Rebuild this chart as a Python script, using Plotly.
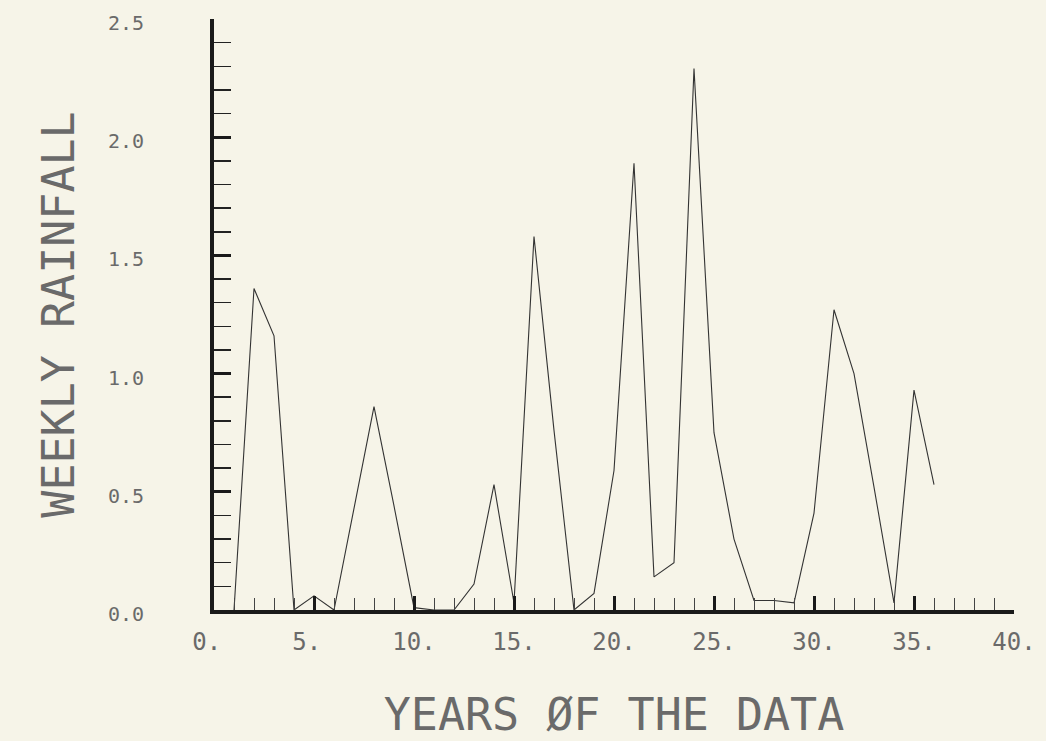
import plotly.graph_objects as go

# Data
weeks = [1, 2, 3, 4, 5, 6, 7, 8, 9, 10, 11, 12, 13, 14, 15, 16, 17, 18,
         19, 20, 21, 22, 23, 24, 25, 26, 27, 28, 29, 30, 31, 32, 33, 34, 35, 36]
rainfall = [0.00, 1.36, 1.16, 0.00, 0.06, 0.00, 0.43, 0.86, 0.44, 0.01, 0.00, 0.00,
            0.11, 0.53, 0.03, 1.58, 0.76, 0.00, 0.07, 0.59, 1.89, 0.14, 0.20, 2.29,
            0.75, 0.30, 0.04, 0.04, 0.03, 0.41, 1.27, 1.00, 0.52, 0.03, 0.93, 0.53]

x_tick_vals = [0, 5, 10, 15, 20, 25, 30, 35, 40]
x_tick_text = ["0.\u00a0", "5.\u00a0", "10.", "15.", "20.", "25.", "30.", "35.", "40."]
y_tick_vals = [0.0, 0.5, 1.0, 1.5, 2.0, 2.5]
y_tick_text = ["0.0", "0.5", "1.0", "1.5", "2.0", "2.5"]

x_title = "YEARS ØF THE DATA"
y_title = "WEEKLY RAINFALL"

BG = "#f6f4e8"
INK = "#1a1a1a"
TXT = "#6a6a6a"
FONT = "DejaVu Sans Mono"

fig = go.Figure()
fig.add_trace(go.Scatter(
    x=weeks, y=rainfall, mode="lines",
    line=dict(color="#333333", width=1.1),
    showlegend=False, hoverinfo="skip",
))

fig.update_layout(
    width=1046, height=741,
    paper_bgcolor=BG, plot_bgcolor=BG,
    margin=dict(l=214, r=32, t=19, b=131, autoexpand=False),
    font=dict(family=FONT, color=TXT),
)

fig.update_xaxes(
    range=[0, 40], showgrid=False, zeroline=False,
    showline=True, linewidth=4, linecolor=INK,
    ticks="inside", ticklen=14, tickwidth=3, tickcolor=INK,
    tickvals=x_tick_vals, ticktext=x_tick_text,
    tickfont=dict(family=FONT, size=24, color=TXT),
    ticklabelstandoff=7,
    minor=dict(dtick=1, ticks="inside", ticklen=12, tickwidth=1, tickcolor="#444444"),
    title=dict(text=x_title, font=dict(family=FONT, size=45, color=TXT), standoff=46),
    automargin=False,
)

fig.update_yaxes(
    range=[0, 2.5], showgrid=False, zeroline=False,
    showline=True, linewidth=4, linecolor=INK,
    ticks="inside", ticklen=17, tickwidth=3, tickcolor=INK,
    tickvals=y_tick_vals, ticktext=y_tick_text,
    tickfont=dict(family=FONT, size=20, color=TXT),
    ticklabelstandoff=62, ticklabelshift=4,
    minor=dict(dtick=0.1, ticks="inside", ticklen=17, tickwidth=1.5, tickcolor="#222222"),
    title=dict(text=y_title, font=dict(family=FONT, size=45, color=TXT), standoff=20),
    automargin=False,
)

fig.write_html(
    "out.html",
    config={"displayModeBar": False, "staticPlot": True},
    post_script=(
        "document.body.style.margin='0';"
        "document.body.style.overflow='hidden';"
        "document.body.style.background='" + BG + "';"
    ),
)
